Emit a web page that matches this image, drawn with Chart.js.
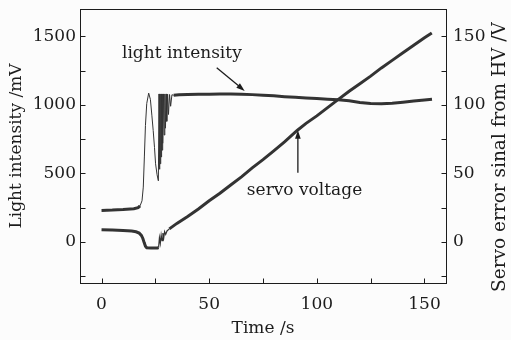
<!DOCTYPE html>
<html>
<head>
<meta charset="utf-8">
<script src="https://cdn.jsdelivr.net/npm/chart.js@4"></script>
<style>
  html, body { margin:0; padding:0; background:#fcfcfc; }
  #wrap { width:511px; height:340px; }
</style>
</head>
<body>
<div id="wrap"><canvas id="c"></canvas></div>
<script>
/* -------- data -------- */
// light intensity (left axis, mV)
const lightT  = [0, 5, 10, 15, 17, 17.9, 18.8, 19.4, 19.9, 20.4, 21, 21.9, 22.7, 23.4, 24, 24.6, 25.1, 25.8, 26.4,
                 26.7, 26.9, 27.1, 27.3, 27.5, 27.7, 27.9, 28.1, 28.3, 28.5, 28.8, 29.1, 29.4, 29.7, 30.0, 30.3, 30.7, 31.1, 31.6, 32.1, 32.7, 33.5,
                 36, 40, 45, 50, 55, 60, 65, 70, 75, 80, 85, 90, 95, 100, 105, 110, 115, 120, 125, 130, 135, 140, 145, 150, 153.5];
const lightMv = [230, 232, 236, 242, 250, 263, 300, 400, 620, 850, 1010, 1086, 1040, 920, 813, 690, 570, 490, 446,
                 1080, 530, 1080, 570, 1080, 620, 1080, 670, 1080, 720, 1080, 780, 1080, 830, 1080, 880, 1078, 930, 1076, 990, 1074, 1070,
                 1074, 1076, 1077, 1078, 1080, 1080, 1078, 1075, 1070, 1066, 1060, 1055, 1050, 1046, 1042, 1038, 1030, 1018, 1010, 1008, 1012, 1020, 1028, 1036, 1042];

// servo voltage (right axis, V)
const servoT = [0, 5, 10, 14, 16, 17.5, 18.5, 19.2, 19.8, 20.4, 21, 23, 26, 26.5, 26.9, 27.3, 27.7, 28.1, 28.5, 28.9, 29.3, 29.8, 30.4,
                31.5, 35, 40, 45, 50, 55, 60, 65, 70, 75, 80, 85, 91, 95, 100, 105, 110, 115, 120, 125, 130, 135, 140, 145, 150, 153.4];
const servoV = [8.8, 8.6, 8.3, 7.9, 7.4, 6.4, 4.8, 2.5, -0.5, -3.2, -4.3, -4.5, -4.5, -4.2, 3, -1, 5, 1, 6.5, 3, 7.5, 5.5, 8,
                9.5, 13.5, 18.5, 24, 30, 35.5, 41.5, 47.5, 54, 60, 66.5, 73, 81.5, 86.5, 92, 98, 104, 110, 115.5, 121, 127, 132.5, 138, 143.5, 149, 152.5];

// axis ticks
const xTicks   = [0, 25, 50, 75, 100, 125, 150];
const yTicks   = [-250, 0, 250, 500, 750, 1000, 1250, 1500];
const y1Ticks  = [-25, 0, 25, 50, 75, 100, 125, 150];

// annotations in data units (x: s, y: mV on left axis)
const notes = [
  { text:'light intensity', x:9.5,  y:1375, from:[53.5,1272], to:[66.5,1102] },
  { text:'servo voltage',   x:67.5, y:372,  from:[91.2,505],  to:[91.2,815] },
];

const SERIF = '"DejaVu Serif", "Liberation Serif", serif';
const ink   = '#1c1c1c';
const lineC = '#333';

const pts = (xs, ys) => xs.map((x, i) => ({ x, y: ys[i] }));
const inRange = (ctx, lo, hi) => ctx.p0.parsed.x >= lo && ctx.p1.parsed.x <= hi;

/* -------- frame, inward ticks, notes, right title -------- */
const decor = {
  id:'decor',
  afterDraw(chart) {
    const { ctx, chartArea:a, scales } = chart;
    const L = a.left + 0.5, R = a.right + 0.5, T = a.top + 0.5, B = a.bottom + 0.5;
    ctx.save();
    ctx.strokeStyle = ink; ctx.lineWidth = 1;
    ctx.strokeRect(L, T, R - L, B - T);
    const tk = 5;
    ctx.beginPath();
    xTicks.forEach(v => { const px = Math.round(scales.x.getPixelForValue(v)) + 0.5; ctx.moveTo(px, B); ctx.lineTo(px, B - tk); });
    yTicks.forEach(v => { const py = Math.round(scales.y.getPixelForValue(v)) + 0.5; ctx.moveTo(L, py); ctx.lineTo(L + tk, py); });
    y1Ticks.forEach(v => { const py = Math.round(scales.y1.getPixelForValue(v)) + 0.5; ctx.moveTo(R, py); ctx.lineTo(R - tk, py); });
    ctx.stroke();

    // notes with arrows
    ctx.fillStyle = ink;
    ctx.font = '17px ' + SERIF;
    ctx.textBaseline = 'middle';
    notes.forEach(n => {
      ctx.fillText(n.text, scales.x.getPixelForValue(n.x), scales.y.getPixelForValue(n.y));
      const x0 = scales.x.getPixelForValue(n.from[0]), y0 = scales.y.getPixelForValue(n.from[1]);
      const x1 = scales.x.getPixelForValue(n.to[0]),   y1 = scales.y.getPixelForValue(n.to[1]);
      const ang = Math.atan2(y1 - y0, x1 - x0), hl = 9, hw = 0.32;
      ctx.beginPath(); ctx.moveTo(x0, y0);
      ctx.lineTo(x1 - Math.cos(ang) * hl * 0.8, y1 - Math.sin(ang) * hl * 0.8);
      ctx.lineWidth = 1.3; ctx.stroke();
      ctx.beginPath(); ctx.moveTo(x1, y1);
      ctx.lineTo(x1 - hl * Math.cos(ang - hw), y1 - hl * Math.sin(ang - hw));
      ctx.lineTo(x1 - hl * Math.cos(ang + hw), y1 - hl * Math.sin(ang + hw));
      ctx.closePath(); ctx.fill();
    });

    // right axis title, reading bottom to top
    ctx.save();
    ctx.translate(chart.width - 11, (a.top + a.bottom) / 2 + 11);
    ctx.rotate(-Math.PI / 2);
    ctx.textAlign = 'center';
    ctx.font = '18.5px ' + SERIF;
    ctx.fillText('Servo error sinal from HV /V', 0, 0);
    ctx.restore();
    ctx.restore();
  }
};

const setTicks = list => scale => { scale.ticks = list.map(v => ({ value:v })); };
const lbl = v => (v % 50 === 0 ? String(v) : '');
const lblY = v => (v % 500 === 0 ? String(v) : '');
const fitV = w => s => { s.width = w; s.paddingTop = 0; s.paddingBottom = 0; };

new Chart(document.getElementById('c'), {
  type:'line',
  data:{
    datasets:[
      { label:'light intensity', data:pts(lightT, lightMv), yAxisID:'y',
        borderColor:lineC, borderWidth:3, pointRadius:0, tension:0,
        segment:{ borderWidth: c => inRange(c, 17.5, 33.5) ? 1 : 3 } },
      { label:'servo voltage', data:pts(servoT, servoV), yAxisID:'y1',
        borderColor:lineC, borderWidth:3, pointRadius:0, tension:0,
        segment:{ borderWidth: c => inRange(c, 26.4, 31.5) ? 1.2 : 3 } },
    ],
  },
  options:{
    responsive:true, maintainAspectRatio:false, animation:false,
    layout:{ padding:{ top:9, left:0, right:0, bottom:0 } },
    plugins:{ legend:{ display:false }, tooltip:{ enabled:false } },
    scales:{
      x:{ type:'linear', min:-10, max:160,
          afterBuildTicks:setTicks(xTicks),
          afterFit: s => { s.height = 57; s.paddingLeft = 0; s.paddingRight = 0; },
          grid:{ display:false, drawTicks:false }, border:{ display:false },
          ticks:{ callback:lbl, padding:11, color:ink, font:{ family:SERIF, size:17 }, maxRotation:0, autoSkip:false },
          title:{ display:true, text:'Time /s', color:ink, padding:{ top:0, bottom:1 }, font:{ family:SERIF, size:17 } } },
      y:{ position:'left', min:-300, max:1700,
          afterBuildTicks:setTicks(yTicks),
          afterFit:fitV(80),
          grid:{ display:false, drawTicks:false }, border:{ display:false },
          ticks:{ callback:lblY, padding:4, color:ink, font:{ family:SERIF, size:17 }, autoSkip:false },
          title:{ display:true, text:'Light intensity /mV', color:ink, padding:{ top:6, bottom:0 }, font:{ family:SERIF, size:17 } } },
      y1:{ position:'right', min:-30, max:170,
          afterBuildTicks:setTicks(y1Ticks),
          afterFit:fitV(65),
          grid:{ display:false, drawTicks:false }, border:{ display:false },
          ticks:{ callback:lbl, padding:7, color:ink, font:{ family:SERIF, size:17 }, autoSkip:false } },
    },
  },
  plugins:[decor],
});
</script>
</body>
</html>
